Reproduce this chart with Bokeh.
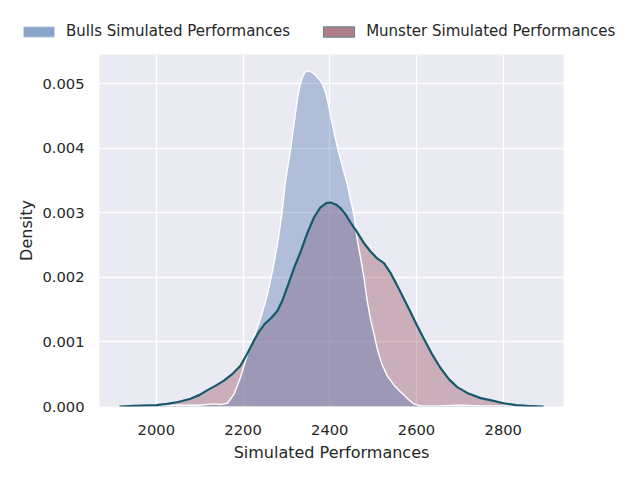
from bokeh.plotting import figure
from bokeh.layouts import column
from bokeh.models import Range1d, Legend, LegendItem, FixedTicker, NumeralTickFormatter, ColumnDataSource
from bokeh.embed import file_html
from bokeh.resources import INLINE

# Simulated performance densities
bulls_x = [1915, 1950, 2000, 2050, 2100, 2130, 2150, 2164, 2180, 2194, 2210, 2229, 2243, 2256,
           2268, 2279, 2290, 2298, 2310, 2318, 2325, 2331, 2337, 2343, 2350, 2358, 2367, 2375,
           2383, 2391, 2398, 2404, 2410, 2421, 2432, 2440, 2448, 2456, 2463, 2471, 2479, 2486,
           2494, 2502, 2510, 2520, 2533, 2548, 2563, 2578, 2594, 2610, 2650, 2700, 2750, 2800, 2890]
bulls_y = [0.0, 0.00001, 0.00002, 0.00002, 0.00002, 0.00004, 0.00003, 0.00005, 0.0002, 0.00045,
           0.0008, 0.00115, 0.00142, 0.00173, 0.0021, 0.0025, 0.0030, 0.0035, 0.0040, 0.0044,
           0.00475, 0.00497, 0.0051, 0.00518, 0.0052, 0.00518, 0.00513, 0.00507, 0.0050, 0.00485,
           0.00464, 0.00444, 0.00424, 0.00392, 0.00365, 0.00345, 0.0032, 0.00296, 0.0026, 0.0023,
           0.00199, 0.00165, 0.00135, 0.00112, 0.00088, 0.00066, 0.00047, 0.00033, 0.00023,
           0.00013, 0.00004, 0.00001, 0.00001, 0.00002, 0.00001, 0.00001, 0.0]

munster_x = [1915, 1948, 2000, 2025, 2050, 2079, 2100, 2117, 2136, 2156, 2175, 2194, 2210, 2225,
             2237, 2250, 2265, 2279, 2290, 2302, 2318, 2333, 2348, 2363, 2378, 2392, 2402, 2414,
             2425, 2436, 2448, 2463, 2480, 2494, 2510, 2525, 2540, 2555, 2570, 2585, 2600, 2617,
             2635, 2655, 2675, 2694, 2720, 2748, 2775, 2801, 2830, 2855, 2893]
munster_y = [0.0, 0.00001, 0.00002, 0.00004, 0.00007, 0.00012, 0.00018, 0.00025, 0.00032, 0.0004,
             0.0005, 0.00063, 0.00082, 0.00102, 0.00116, 0.00128, 0.00137, 0.00148, 0.00163,
             0.00185, 0.00215, 0.0024, 0.00268, 0.00292, 0.00308, 0.00315, 0.00316, 0.00313,
             0.00307, 0.00298, 0.00285, 0.0027, 0.00252, 0.0024, 0.00229, 0.00222, 0.00207,
             0.00188, 0.00168, 0.00148, 0.00127, 0.00105, 0.00082, 0.0006, 0.00042, 0.0003,
             0.0002, 0.00013, 0.00009, 0.00005, 0.00002, 0.00001, 0.0]

x_ticks = [2000, 2200, 2400, 2600, 2800]
y_ticks = [0.000, 0.001, 0.002, 0.003, 0.004, 0.005]
labels = ["Bulls Simulated Performances", "Munster Simulated Performances"]

FONT = "DejaVu Sans"
TXT = "#262626"

# ---------- legend strip (separate small figure above the chart) ----------
leg = figure(width=624, height=44, output_backend="svg", toolbar_location=None,
             x_range=Range1d(0, 1), y_range=Range1d(0, 1),
             x_axis_type=None, y_axis_type=None,
             min_border_left=0, min_border_right=0, min_border_top=0, min_border_bottom=0)
if "frame_align" in leg.properties():
    leg.frame_align = False
leg.outline_line_color = None
leg.background_fill_color = "white"
leg.border_fill_color = "white"
leg.xgrid.visible = False
leg.ygrid.visible = False

nan = float("nan")
sw = ColumnDataSource(dict(left=[nan], right=[nan], top=[nan], bottom=[nan]))
r_lb = leg.quad(left="left", right="right", top="top", bottom="bottom", source=sw,
                fill_color="#87a5c8", line_color="#d0dbe8", line_width=1)
r_lm = leg.quad(left="left", right="right", top="top", bottom="bottom", source=sw,
                fill_color="#b0808a", line_color="#5f8593", line_width=1)

legend = Legend(items=[LegendItem(label=labels[0], renderers=[r_lb]),
                       LegendItem(label=labels[1], renderers=[r_lm])],
                orientation="horizontal", location=(19, 4))
legend.border_line_color = None
legend.background_fill_alpha = 0
legend.label_text_font = FONT
legend.label_text_font_size = "15px"
legend.label_text_color = TXT
legend.glyph_width = 39
legend.glyph_height = 13
legend.label_standoff = 8
legend.spacing = 29
legend.padding = 0
legend.margin = 0
leg.add_layout(legend)

# ---------- main chart ----------
fig = figure(width=624, height=420, output_backend="svg", toolbar_location=None,
             x_range=Range1d(1869, 2939), y_range=Range1d(0, 0.005452),
             min_border_left=99, min_border_right=61, min_border_top=10, min_border_bottom=55)
if "frame_align" in fig.properties():
    fig.frame_align = False
fig.background_fill_color = "#eaeaf2"
fig.border_fill_color = "white"
fig.outline_line_color = None

for ax in (fig.xaxis[0], fig.yaxis[0]):
    ax.axis_line_color = None
    ax.major_tick_line_color = None
    ax.minor_tick_line_color = None
    ax.major_tick_out = 0
    ax.major_tick_in = 0
    ax.minor_tick_out = 0
    ax.minor_tick_in = 0
    ax.major_label_text_font = FONT
    ax.major_label_text_font_size = "14.7px"
    ax.major_label_text_color = TXT
    ax.axis_label_text_font = FONT
    ax.axis_label_text_font_size = "16px"
    ax.axis_label_text_font_style = "normal"
    ax.axis_label_text_color = TXT

fig.xaxis.ticker = FixedTicker(ticks=x_ticks)
fig.yaxis.ticker = FixedTicker(ticks=y_ticks)
fig.yaxis.formatter = NumeralTickFormatter(format="0.000")
fig.xaxis.axis_label = "Simulated Performances"
fig.yaxis.axis_label = "Density"
fig.xaxis.major_label_standoff = 18
fig.xaxis.axis_label_standoff = 5
fig.yaxis.major_label_standoff = 15
fig.yaxis.axis_label_standoff = 3

fig.xgrid.grid_line_color = "white"
fig.ygrid.grid_line_color = "white"
fig.xgrid.grid_line_width = 1.3
fig.ygrid.grid_line_width = 1.3

src_b = ColumnDataSource(dict(x=bulls_x, y=bulls_y))
src_m = ColumnDataSource(dict(x=munster_x, y=munster_y))

fig.varea(x="x", y1=0, y2="y", source=src_m, fill_color="#8c3c50", fill_alpha=0.34)
fig.varea(x="x", y1=0, y2="y", source=src_b, fill_color="#4c72b0", fill_alpha=0.36)
fig.line(x="x", y="y", source=src_b, line_color="white", line_width=1.4)
fig.line(x="x", y="y", source=src_m, line_color="#15596a", line_width=2.2)

p = column(leg, fig, spacing=0)

open("out.html", "w").write(file_html(p, INLINE))
